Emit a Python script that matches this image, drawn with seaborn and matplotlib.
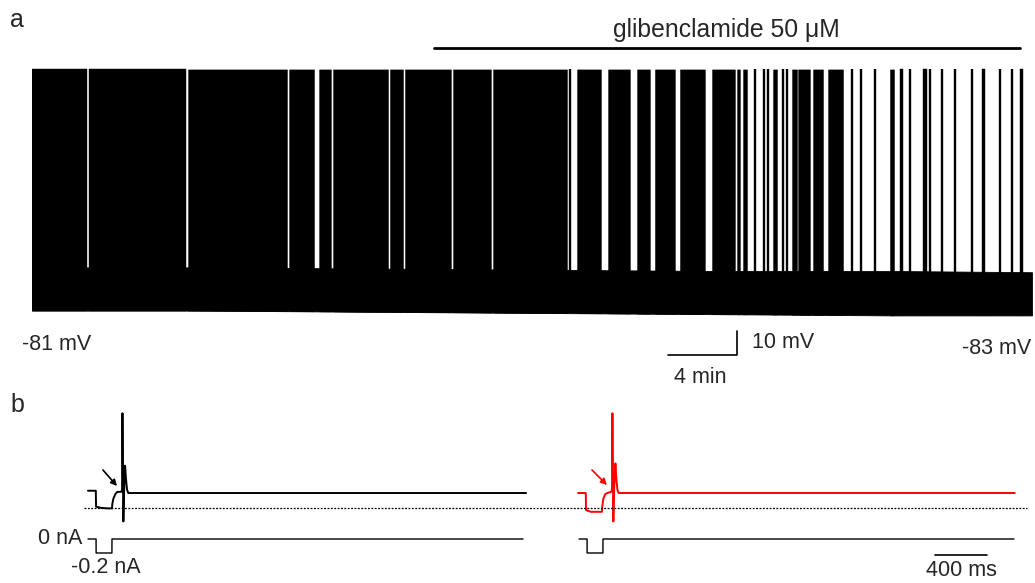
import numpy as np
import matplotlib
matplotlib.use("Agg")
import matplotlib.pyplot as plt
import seaborn as sns
import pandas as pd

# ---------------- data: panel a (time in min, potential in mV) ----------------
burst_epochs = [
    (0.00, 3.19), (3.31, 8.93), (9.05, 14.79), (14.91, 16.36), (16.65, 17.34),
    (17.46, 20.65), (20.76, 21.52), (21.63, 24.30), (24.42, 26.62), (26.74, 31.03),
    (31.61, 33.00), (33.41, 34.68), (35.09, 35.84), (36.13, 37.29), (37.58, 39.03),
    (39.44, 40.77), (40.89, 41.06), (41.24, 41.47), (42.98, 43.21), (44.08, 44.37),
    (44.43, 45.12), (45.30, 45.88), (46.17, 47.04), (49.76, 50.00), (50.34, 50.52),
    (51.68, 51.91), (55.10, 55.27), (57.30, 57.48),
]
single_spikes = [31.20, 41.93, 42.46, 42.69, 43.56, 43.79, 47.56, 48.08, 48.89,
                 50.90, 52.08, 52.78, 53.53, 54.52, 56.14, 56.84]
spike_peak = 13.0
band_t = [0, 10, 20, 30, 40, 50, 58]
band_hi = [-69.5, -69.5, -70.0, -70.5, -71.0, -71.0, -71.5]
band_lo = [-87.5, -87.5, -88.0, -88.5, -89.0, -89.5, -89.5]
drug_start, drug_end = 23.3, 57.3
drug_label = "glibenclamide 50 \u03bcM"
rest_start_label, rest_end_label = "-81 mV", "-83 mV"

# ---------------- data: panel b (time in ms, mV, nA) ----------------
t_ctrl = [0, 60, 62, 100, 150, 184, 188, 195, 210, 225, 255, 262, 265, 268, 272,
          278, 285, 292, 300, 310, 1000, 2000, 3370]
v_ctrl = [-63, -63, -77, -78, -78.5, -78.5, -74, -70, -66, -64, -64, -62, 5, -40,
          -90, -62, -41, -52, -62, -65, -65, -65, -65]
t_glib = [0, 60, 62, 100, 150, 184, 188, 195, 210, 225, 255, 262, 265, 268, 272,
          278, 288, 295, 303, 312, 1000, 2000, 3360]
v_glib = [-65, -65, -80, -81.5, -81.5, -81.5, -76, -70, -66, -65, -64, -62, 5, -40,
          -90, -62, -39, -52, -62, -65, -65, -65, -65]
t_cur = [0, 62, 62.5, 184, 184.5, 3346]
i_cur = [0, 0, -0.2, -0.2, 0, 0]
ref_level = -78.2
scale_ms = 400

# ---------------- layout ----------------
sns.set_theme(style="white")
plt.rcParams['font.family'] = ['Liberation Sans', 'DejaVu Sans']

W, H = 1035, 583
fig = plt.figure(figsize=(W / 100, H / 100), dpi=100)

def rect(x0, y0, x1, y1):
    return [x0 / W, 1 - y1 / H, (x1 - x0) / W, (y1 - y0) / H]

FS = 15.5

# ---- panel a ----
ax = fig.add_axes(rect(32, 40, 1032, 390))
ax.set_axis_off()
ax.set_xlim(0, 58)
ax.set_ylim(-120.58, 25.25)
ax.fill_between(band_t, band_lo, band_hi, color="black", lw=0.6, edgecolor="black")
for t0, t1 in burst_epochs:
    lo = np.interp([t0, t1], band_t, band_lo)
    ax.fill_between([t0, t1], lo, [spike_peak, spike_peak], color="black", lw=0.3,
                    edgecolor="black")
lo_s = np.interp(single_spikes, band_t, band_lo)
ax.vlines(single_spikes, lo_s, spike_peak, color="black", lw=1.7)

ax.plot([drug_start, drug_end], [21.9, 21.9], color="black", lw=2.0, clip_on=False)
ax.text((drug_start + drug_end) / 2, 29.4, drug_label, ha="center", va="center",
        fontsize=17.8, clip_on=False)

# scale bar 4 min / 10 mV
ax.plot([36.9, 40.9, 40.9], [-106, -106, -96], color="black", lw=1.2, clip_on=False)
ax.text(41.76, -100.6, "10 mV", ha="left", va="center", fontsize=FS)
ax.text(38.74, -115.2, "4 min", ha="center", va="center", fontsize=FS)
ax.text(-0.58, -101.8, rest_start_label, ha="left", va="center", fontsize=FS)
ax.text(57.95, -103.1, rest_end_label, ha="right", va="center", fontsize=FS)

# ---- panel b: voltage ----
offset = 3769
axv = fig.add_axes(rect(60, 395, 1035, 528))
axv.set_axis_off()
df_c = pd.DataFrame({"t": t_ctrl, "v": v_ctrl})
df_g = pd.DataFrame({"t": np.array(t_glib) + offset, "v": v_glib})
sns.lineplot(data=df_c, x="t", y="v", ax=axv, color="black", lw=1.4,
             estimator=None, sort=False)
sns.lineplot(data=df_g, x="t", y="v", ax=axv, color="#ff0000", lw=1.4,
             estimator=None, sort=False)
axv.plot([-31, 7223], [ref_level, ref_level], color="black", lw=0.9,
         linestyle=(0, (1.5, 1.2)))
axv.annotate("", xy=(223, -58.9), xytext=(115, -44.8),
             arrowprops=dict(arrowstyle="-|>", color="black", lw=1.2,
                             mutation_scale=9, shrinkA=0, shrinkB=0))
axv.annotate("", xy=(offset + 223, -58.0), xytext=(offset + 108, -44.8),
             arrowprops=dict(arrowstyle="-|>", color="#ff0000", lw=1.2,
                             mutation_scale=9, shrinkA=0, shrinkB=0))
axv.set_xlim(-215.4, 7284.6)
axv.set_ylim(-95.7, 21.0)

# ---- panel b: current ----
axi = fig.add_axes(rect(60, 528, 1035, 583))
axi.set_axis_off()
df_i1 = pd.DataFrame({"t": t_cur, "i": i_cur})
df_i2 = pd.DataFrame({"t": np.array(t_cur) + offset + 8, "i": i_cur})
sns.lineplot(data=df_i1, x="t", y="i", ax=axi, color="black", lw=1.0,
             estimator=None, sort=False)
sns.lineplot(data=df_i2, x="t", y="i", ax=axi, color="black", lw=1.0,
             estimator=None, sort=False)
axi.plot([6515, 6515 + scale_ms], [-0.229, -0.229], color="black", lw=1.2)
axi.text(6715, -0.443, f"{scale_ms} ms", ha="center", va="center", fontsize=FS)
axi.text(-40, 0.0, "0 nA", ha="right", va="center", fontsize=FS)
axi.text(140, -0.414, "-0.2 nA", ha="center", va="center", fontsize=FS)
axi.set_xlim(-215.4, 7284.6)
axi.set_ylim(-0.6286, 0.157)

fig.text(10 / W, 1 - 20 / H, "a", fontsize=18, ha="left", va="center")
fig.text(10 / W, 1 - 405 / H, "b", fontsize=18, ha="left", va="center")

fig.savefig("out.png", dpi=100)
